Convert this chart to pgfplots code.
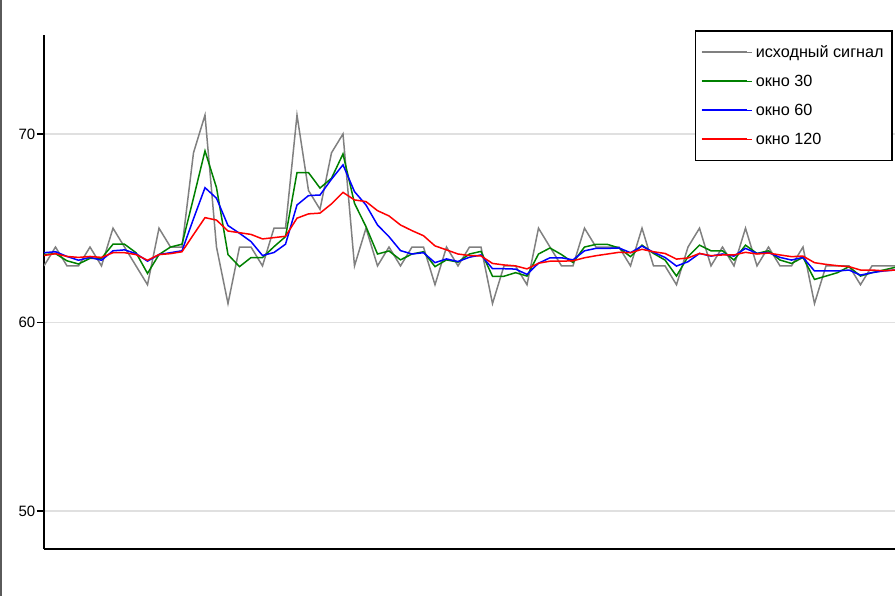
\documentclass[border=0pt]{standalone}
\usepackage{pgfplots}
\pgfplotsset{compat=1.18}
\usepackage{pgfplotstable}
\usepackage{fontspec}
\setmainfont{Liberation Sans}

\definecolor{siggray}{RGB}{128,128,128}
\definecolor{w30green}{RGB}{0,128,0}
\definecolor{w60blue}{RGB}{0,0,255}
\definecolor{w120red}{RGB}{255,0,0}
\definecolor{gridgray}{RGB}{224,224,224}
\definecolor{framegray}{RGB}{90,90,90}

% k, raw signal, moving averages (window 30 / 60 / 120)
\pgfplotstableread{
k sig w30 w60 w120
0 63 63.6 63.7 63.55
1 64 63.65 63.75 63.65
2 63 63.27 63.5 63.5
3 63 63.1 63.3 63.45
4 64 63.4 63.45 63.5
5 63 63.4 63.3 63.45
6 65 64.15 63.8 63.7
7 64 64.15 63.85 63.7
8 63 63.7 63.65 63.6
9 62 62.6 63.25 63.3
10 65 63.6 63.6 63.6
11 64 64.0 63.7 63.65
12 64 64.15 63.8 63.75
13 69 66.6 65.5 64.66
14 71 69.1 67.15 65.56
15 64 67.15 66.59 65.43
16 61 63.6 65.14 64.85
17 64 62.96 64.73 64.76
18 64 63.44 64.29 64.67
19 63 63.44 63.55 64.43
20 65 64.02 63.71 64.5
21 65 64.55 64.15 64.57
22 71 67.95 66.23 65.53
23 67 67.95 66.73 65.76
24 66 67.13 66.76 65.8
25 69 67.65 67.6 66.29
26 70 68.94 68.36 66.9
27 63 66.32 66.94 66.5
28 65 65.08 66.23 66.41
29 63 63.63 65.17 65.93
30 64 63.79 64.55 65.65
31 63 63.32 63.81 65.17
32 64 63.63 63.63 64.87
33 64 63.75 63.7 64.6
34 62 62.96 63.17 64.06
35 64 63.32 63.37 63.85
36 63 63.2 63.23 63.63
37 64 63.63 63.46 63.55
38 64 63.77 63.58 63.53
39 61 62.45 62.85 63.13
40 63 62.45 62.85 63.05
41 63 62.64 62.83 63.0
42 62 62.46 62.55 62.84
43 65 63.63 63.14 63.14
44 64 63.95 63.43 63.25
45 63 63.6 63.43 63.25
46 63 63.18 63.32 63.27
47 65 64.0 63.8 63.43
48 64 64.14 63.93 63.54
49 64 64.14 63.93 63.63
50 64 63.95 63.95 63.72
51 63 63.49 63.7 63.7
52 65 64.1 64.05 63.88
53 63 63.66 63.72 63.75
54 63 63.31 63.45 63.66
55 62 62.46 62.99 63.36
56 64 63.49 63.22 63.42
57 65 64.1 63.66 63.66
58 63 63.8 63.52 63.54
59 64 63.8 63.63 63.58
60 63 63.31 63.52 63.58
61 65 64.1 63.93 63.72
62 63 63.66 63.66 63.63
63 64 63.8 63.71 63.68
64 63 63.31 63.45 63.58
65 63 63.13 63.31 63.49
66 64 63.45 63.45 63.52
67 61 62.28 62.73 63.17
68 63 62.46 62.73 63.08
69 63 62.64 62.73 63.01
70 63 62.96 62.78 62.96
71 62 62.46 62.51 62.78
72 63 62.64 62.64 62.78
73 63 62.78 62.73 62.74
74 63 62.92 62.78 62.78
}\datatable

\begin{document}
\begin{tikzpicture}
\useasboundingbox (0,0) rectangle (895pt,596pt);
\draw[framegray, line width=1.5pt] (0.75pt,0) -- (0.75pt,596pt);

\begin{axis}[
at={(44pt,47pt)}, anchor=south west,
width=851pt, height=514pt, scale only axis,
xmin=0, xmax=74,
ymin=47.98, ymax=75.25,
axis x line=bottom, axis y line=left,
axis line style={-, line width=1.5pt, black},
xtick=\empty,
ytick={50,60,70},
tick align=outside,
major tick length=7pt,
ytick style={line width=1.5pt, black},
ymajorgrids,
y grid style={line width=1.2pt, gridgray},
yticklabel style={font=\fontsize{15}{17}\selectfont, inner xsep=1.5pt},
/pgf/number format/assume math mode=true,
legend cell align=left,
legend image code/.code={%
  \draw[#1, line width=2pt] (0pt,0.3pt) -- (45pt,0.3pt);
  \path (0pt,0pt) -- (50pt,0pt);},
legend style={
  at={(axis description cs:0.9975,1.0097)}, anchor=north east,
  draw=black, line width=1.5pt,
  font=\fontsize{16.2}{19}\selectfont,
  inner xsep=5pt, inner ysep=14pt,
  row sep=14pt,
  nodes={inner xsep=3.5pt, inner ysep=1pt},
},
]
\addplot [line width=1.5pt, siggray] table [x=k, y=sig] {\datatable};
\addlegendentry{исходный сигнал}
\addplot [line width=1.5pt, w30green] table [x=k, y=w30] {\datatable};
\addlegendentry{окно 30}
\addplot [line width=1.5pt, w60blue] table [x=k, y=w60] {\datatable};
\addlegendentry{окно 60}
\addplot [line width=1.5pt, w120red] table [x=k, y=w120] {\datatable};
\addlegendentry{окно 120}
\end{axis}
\end{tikzpicture}
\end{document}
